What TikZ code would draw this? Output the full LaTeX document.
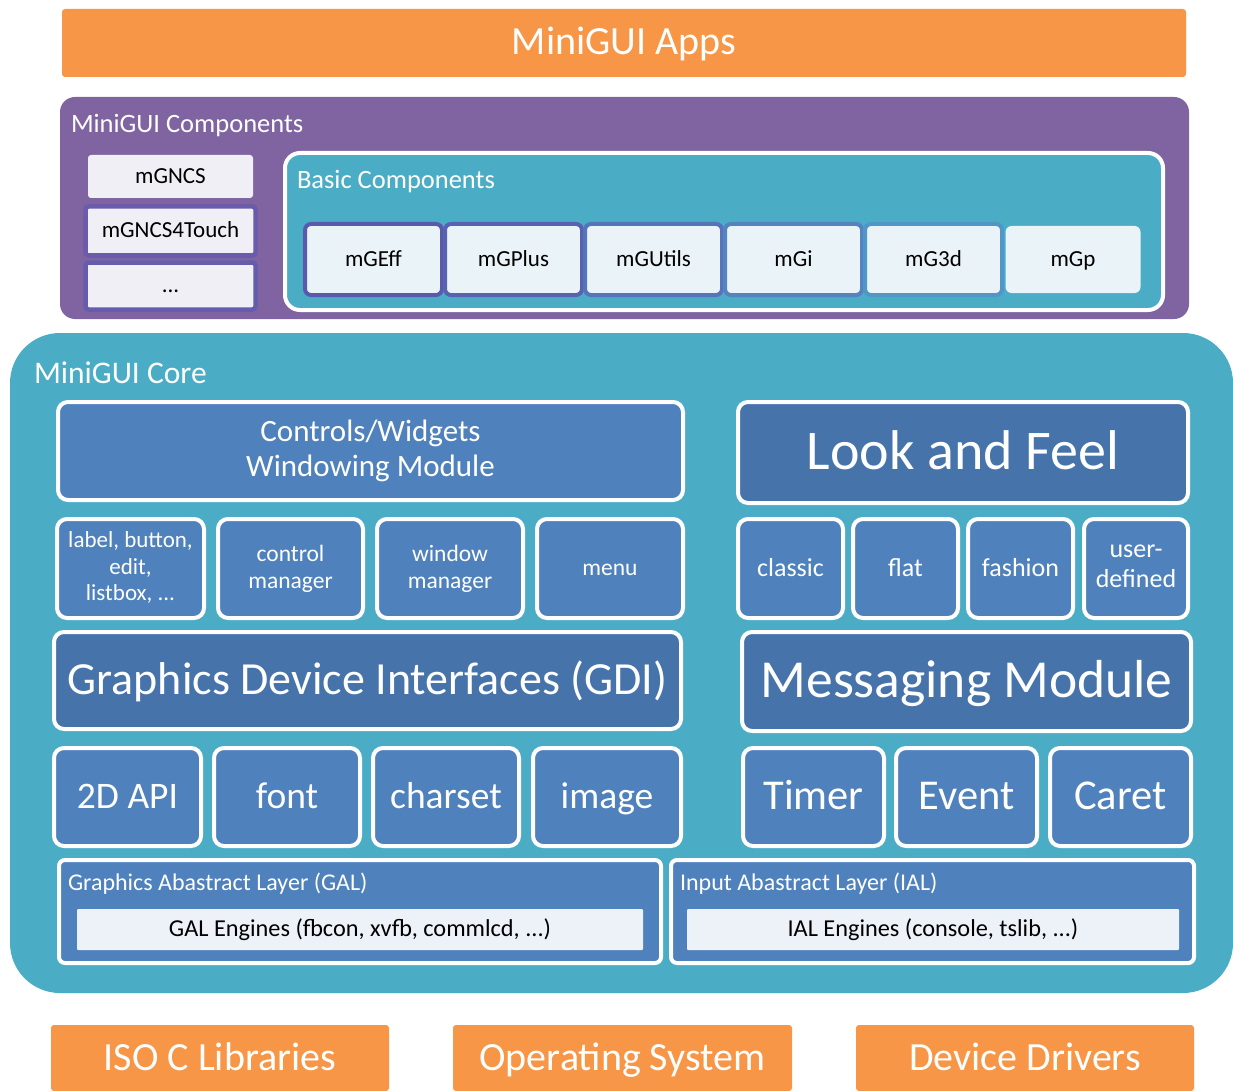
\documentclass[tikz,border=0pt]{standalone}
\usepackage{fontspec}
\setmainfont{Carlito}
\newcommand\txtsize[2]{\fontsize{#1}{#2}\selectfont}
\newcommand\rowstrut{\rule[-.18em]{0pt}{.96em}}
\definecolor{appsorange}{HTML}{F79646}
\definecolor{comppurple}{HTML}{8064A2}
\definecolor{coreteal}{HTML}{4BACC6}
\definecolor{cellblue}{HTML}{4F81BD}
\definecolor{darkblue}{HTML}{4673AA}
\definecolor{paleface}{HTML}{F0EFF5}
\definecolor{paleblue}{HTML}{EAF3F7}
\definecolor{engface}{HTML}{EDF1F8}
\begin{document}
\begin{tikzpicture}[
                  x=1pt, y=-1pt,
                  every node/.style={inner sep=0pt, outer sep=0pt, align=center},
                  dims/.style 2 args={minimum width=#1, minimum height=#2},
                  onerow/.style={execute at begin node=\rowstrut},
                  morerows/.style={execute at begin node={\rule{0pt}{.88em}}},
                  orangebox/.style={fill=appsorange, rounded corners=3pt, text=white, onerow},
                  layerbox/.style={rounded corners=15pt},
                  title/.style={anchor=west, text=white, font=\txtsize{26.5}{30}},
                  compcell/.style={fill=paleface, line width=4.5pt, rounded corners=3pt, onerow},
                  basecell/.style={fill=paleblue, line width=4pt, rounded corners=6pt, onerow},
                  corecell/.style={fill=cellblue, draw=white, line width=4pt,
                                   rounded corners=10pt, text=white, onerow},
                  deepcell/.style={corecell, fill=darkblue},
                  engine/.style={fill=engface, rounded corners=1pt, onerow}
                ]
                  \useasboundingbox (0,0) rectangle (1233,1091);
                  % top layer
                  \node[orangebox, dims={1124pt}{68pt}, font=\txtsize{40}{46}] (apps) at (624,43) {MiniGUI Apps};
                  % components
                  \node[layerbox, fill=comppurple, dims={1129pt}{222pt}] (comp) at (624.5,208) {};
                  \node[title] (comptitle) at (71,126) {MiniGUI Components};
                  \node[compcell, dims={165pt}{43pt}, font=\txtsize{23}{27}] (mgncs) at (170.5,176.5) {mGNCS};
                  \node[compcell, draw={rgb,255:red,106;green,92;blue,170}, dims={170pt}{49pt}, font=\txtsize{23}{27}] (touch) at (170.5,231) {mGNCS4Touch};
                  \node[compcell, draw={rgb,255:red,102;green,92;blue,172}, dims={170pt}{47pt}, font=\txtsize{23}{27}] (more) at (170.5,286) {...};
                  \node[layerbox, fill=coreteal, draw=white, line width=4pt, dims={878pt}{157pt}] (basic) at (724,231.5) {};
                  \node[title] (basictitle) at (297,182) {Basic Components};
                  \node[basecell, draw={rgb,255:red,90;green,90;blue,172}, dims={137pt}{71pt}, font=\txtsize{23}{27}] (mgeff) at (373.5,259.5) {mGEff};
                  \node[basecell, draw={rgb,255:red,88;green,98;blue,176}, dims={137pt}{71pt}, font=\txtsize{23}{27}] (mgplus) at (513.5,259.5) {mGPlus};
                  \node[basecell, draw={rgb,255:red,86;green,116;blue,186}, dims={137pt}{71pt}, font=\txtsize{23}{27}] (mgutils) at (653.5,259.5) {mGUtils};
                  \node[basecell, draw={rgb,255:red,84;green,132;blue,192}, dims={137pt}{71pt}, font=\txtsize{23}{27}] (mgi) at (793.5,259.5) {mGi};
                  \node[basecell, draw={rgb,255:red,80;green,150;blue,198}, dims={137pt}{71pt}, font=\txtsize{23}{27}] (mg3d) at (933.5,259.5) {mG3d};
                  \node[basecell, dims={135pt}{67pt}, font=\txtsize{23}{27}] (mgp) at (1073,259.5) {mGp};
                  % core
                  \node[layerbox, fill=coreteal, rounded corners=50pt, dims={1223pt}{660pt}] (core) at (621.5,663) {};
                  \node[title, font=\txtsize{31.5}{36}] (coretitle) at (34,373) {MiniGUI Core};
                  \node[corecell, morerows, dims={625pt}{98pt}, font=\txtsize{31}{35}] (widgets) at (370.5,451) {Controls/Widgets\\Windowing Module};
                  \node[deepcell, dims={450pt}{101pt}, font=\txtsize{56}{62}] (look) at (963,452.5) {Look and Feel};
                  \node[corecell, morerows, dims={147pt}{99pt}, font=\txtsize{23}{26.5}] (ctrls) at (130.5,568.5) {label, button,\\edit,\\listbox, ...};
                  \node[corecell, morerows, dims={145pt}{99pt}, font=\txtsize{23.5}{27}] (ctrlmgr) at (290.5,568.5) {control\\manager};
                  \node[corecell, morerows, dims={146pt}{99pt}, font=\txtsize{23.5}{27}] (winmgr) at (450,568.5) {window\\manager};
                  \node[corecell, dims={146pt}{99pt}, font=\txtsize{23.5}{27}] (menu) at (610,568.5) {menu};
                  \node[corecell, dims={105pt}{99pt}, font=\txtsize{26}{29}] (classic) at (790.5,568.5) {classic};
                  \node[corecell, dims={105pt}{99pt}, font=\txtsize{26}{29}] (flat) at (905.5,568.5) {flat};
                  \node[corecell, dims={105pt}{99pt}, font=\txtsize{26}{29}] (fashion) at (1020.5,568.5) {fashion};
                  \node[corecell, morerows, dims={104pt}{99pt}, font=\txtsize{26}{29.5}] (userdef) at (1136,568.5) {user-\\defined};
                  \node[deepcell, dims={627pt}{97pt}, font=\txtsize{46}{52}] (gdi) at (367.5,680.5) {Graphics Device Interfaces (GDI)};
                  \node[deepcell, dims={449pt}{99pt}, font=\txtsize{53.5}{60}] (msg) at (966.5,681.5) {Messaging Module};
                  \node[corecell, dims={147pt}{98pt}, font=\txtsize{37.5}{42}] (api) at (127.5,797) {2D API};
                  \node[corecell, dims={146pt}{98pt}, font=\txtsize{37.5}{42}] (font) at (287,797) {font};
                  \node[corecell, dims={146pt}{98pt}, font=\txtsize{37.5}{42}] (charset) at (446,797) {charset};
                  \node[corecell, dims={148pt}{98pt}, font=\txtsize{37.5}{42}] (image) at (607,797) {image};
                  \node[corecell, dims={141pt}{98pt}, font=\txtsize{42.5}{48}] (timer) at (813.5,797) {Timer};
                  \node[corecell, dims={141pt}{98pt}, font=\txtsize{42.5}{48}] (event) at (966.5,797) {Event};
                  \node[corecell, dims={141pt}{98pt}, font=\txtsize{42.5}{48}] (caret) at (1120.5,797) {Caret};
                  % abstract layers
                  \node[corecell, rounded corners=6pt, dims={602pt}{103pt}] (gal) at (360,911.5) {};
                  \node[title, font=\txtsize{24}{28}] (galtitle) at (68,884) {Graphics Abastract Layer (GAL)};
                  \node[engine, dims={566pt}{41pt}, font=\txtsize{24.3}{28}] (galeng) at (360,929.5) {GAL Engines (fbcon, xvfb, commlcd, ...)};
                  \node[corecell, rounded corners=6pt, dims={523pt}{103pt}] (ial) at (932.5,911.5) {};
                  \node[title, font=\txtsize{24}{28}] (ialtitle) at (680,884) {Input Abastract Layer (IAL)};
                  \node[engine, dims={492pt}{41pt}, font=\txtsize{24.3}{28}] (ialeng) at (933,929.5) {IAL Engines (console, tslib, ...)};
                  % base
                  \node[orangebox, dims={338pt}{66pt}, font=\txtsize{40}{46}] (libc) at (220,1058) {ISO C Libraries};
                  \node[orangebox, dims={339pt}{66pt}, font=\txtsize{40}{46}] (os) at (622.5,1058) {Operating System};
                  \node[orangebox, dims={338pt}{66pt}, font=\txtsize{40}{46}] (drivers) at (1025,1058) {Device Drivers};
                \end{tikzpicture}
\end{document}
